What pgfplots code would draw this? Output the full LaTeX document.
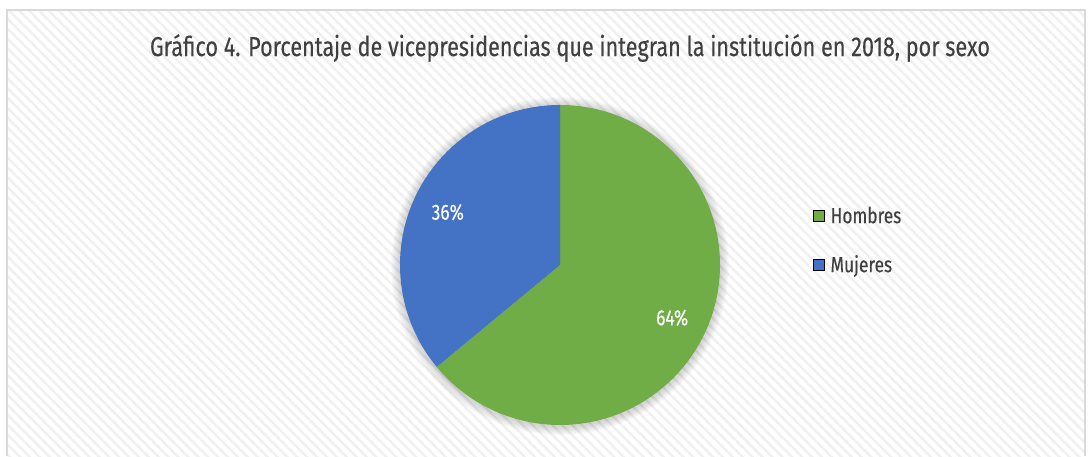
\documentclass[border=0pt]{standalone}
\usepackage{fontspec}
\setmainfont{Fira Sans}[FakeStretch=0.79, FakeBold=0.25]
\usepackage{pgfplots}
\pgfplotsset{compat=1.18}
\usetikzlibrary{patterns.meta,calc}

\definecolor{verde}{HTML}{70AD47}
\definecolor{azul}{HTML}{4472C4}
\definecolor{texto}{HTML}{404040}
\definecolor{marco}{HTML}{D9D9D9}

% porcentajes por sexo
\def\hombres{64}
\def\mujeres{36}
\pgfmathsetmacro\ang{90-3.6*\hombres}
\pgfmathsetmacro\angb{\ang+360}
\pgfmathsetmacro\midh{90-1.8*\hombres}
\pgfmathsetmacro\midm{\ang-1.8*\mujeres}

\begin{document}
\begin{tikzpicture}
\begin{axis}[
    at={(0,0)}, anchor=origin,
    width=1092bp, height=456bp, scale only axis,
    xmin=0, xmax=1092, ymin=0, ymax=456,
    enlargelimits=false, hide axis, clip=false,
    legend image code/.code={\fill[#1] (0bp,-4bp) rectangle (11bp,7bp);},
    legend style={at={(axis cs:813,249)}, anchor=north west, draw=none, fill=none,
        inner sep=0pt, font=\fontsize{22}{26}\selectfont, text=texto, row sep=28bp,
        nodes={inner xsep=0bp, inner ysep=0bp, text height=16bp, text depth=5bp},
        /tikz/every odd column/.append style={column sep=6bp}},
    legend cell align=left,
]
\path (axis cs:0,0) rectangle (axis cs:1092,456);
% fondo rayado y marco
\fill[pattern={Lines[angle=-45,distance=7bp,line width=2.5bp]}, pattern color=black!6]
    (axis cs:7,0) rectangle (axis cs:1085,446);
\draw[marco, line width=1.5bp] (axis cs:7,0) -- (axis cs:7,446) -- (axis cs:1085,446) -- (axis cs:1085,0);

\node[text=texto, font=\fontsize{27.5}{32}\selectfont] at (axis cs:570,408)
    {Gráfico 4. Porcentaje de vicepresidencias que integran la institución en 2018, por sexo};

% sombra
\pgfplotsinvokeforeach{1,...,9}{
  \fill[black, opacity=0.018] (axis cs:560,190) circle[radius=160bp+#1bp];
}

\fill[verde] (axis cs:560,191) -- (axis cs:560,351) arc[start angle=90, end angle=\ang, radius=160bp] -- cycle;
\fill[azul] (axis cs:560,191) -- (axis cs:560,351) arc[start angle=90, end angle=\angb, radius=160bp] -- cycle;

\node[white, font=\fontsize{22}{26}\selectfont] at ($(axis cs:560,191)+(\midh:124bp)$) {\hombres\%};
\node[white, font=\fontsize{22}{26}\selectfont] at ($(axis cs:560,191)+(\midm:124bp)$) {\mujeres\%};

\addlegendimage{fill=verde}
\addlegendentry{Hombres}
\addlegendimage{fill=azul}
\addlegendentry{Mujeres}
\end{axis}
\end{tikzpicture}
\end{document}
